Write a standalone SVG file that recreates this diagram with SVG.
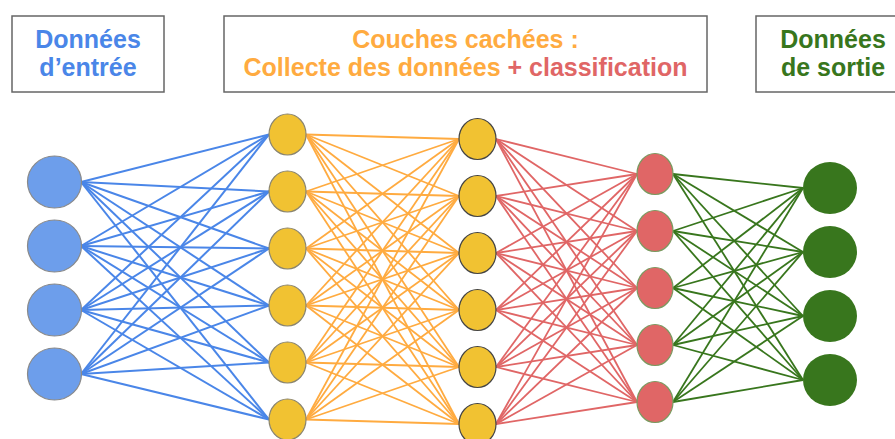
<svg xmlns="http://www.w3.org/2000/svg" width="895" height="439" viewBox="0 0 895 439">
<style>
.box{fill:#fff;stroke:#666;stroke-width:1.5}
.t{font-family:"Liberation Sans",Arial,sans-serif;font-weight:bold;font-size:25px;text-anchor:middle}
.eb line{stroke:#4a86e8;stroke-width:2}
.eo line{stroke:#ffab40;stroke-width:1.8}
.er line{stroke:#e06666;stroke-width:1.8}
.eg line{stroke:#38761d;stroke-width:1.8}
.nb{fill:#6d9eeb;stroke:#8a8a8a;stroke-width:1.2}
.ny{fill:#f1c232;stroke:#8a8570;stroke-width:1.2}
.ny2{fill:#f1c232;stroke:#444;stroke-width:1.2}
.nr{fill:#e06666;stroke:#7a9a60;stroke-width:1.2}
.ng{fill:#38761d}
</style>
<g id="label-input">
<rect class="box" x="12" y="16" width="152" height="76"/>
<text class="t" x="88" y="48" fill="#4a86e8">Données</text>
<text class="t" x="88" y="76" fill="#4a86e8">d’entrée</text>
</g>
<g id="label-hidden">
<rect class="box" x="224" y="16" width="483" height="76"/>
<text class="t" x="465.5" y="48" fill="#ffab40">Couches cachées :</text>
<text class="t" x="465.5" y="76"><tspan fill="#ffab40">Collecte des données </tspan><tspan fill="#e06666">+ classification</tspan></text>
</g>
<g id="label-output">
<rect class="box" x="756" y="16" width="154" height="76"/>
<text class="t" x="833" y="48" fill="#38761d">Données</text>
<text class="t" x="833" y="76" fill="#38761d">de sortie</text>
</g>
<g id="connectors">
<g class="eb">
<line x1="81" y1="182" x2="269" y2="134.5"/><line x1="81" y1="182" x2="269" y2="191.5"/><line x1="81" y1="182" x2="269" y2="248.5"/><line x1="81" y1="182" x2="269" y2="305.5"/><line x1="81" y1="182" x2="269" y2="362.5"/><line x1="81" y1="182" x2="269" y2="419.5"/>
<line x1="81" y1="246" x2="269" y2="134.5"/><line x1="81" y1="246" x2="269" y2="191.5"/><line x1="81" y1="246" x2="269" y2="248.5"/><line x1="81" y1="246" x2="269" y2="305.5"/><line x1="81" y1="246" x2="269" y2="362.5"/><line x1="81" y1="246" x2="269" y2="419.5"/>
<line x1="81" y1="310" x2="269" y2="134.5"/><line x1="81" y1="310" x2="269" y2="191.5"/><line x1="81" y1="310" x2="269" y2="248.5"/><line x1="81" y1="310" x2="269" y2="305.5"/><line x1="81" y1="310" x2="269" y2="362.5"/><line x1="81" y1="310" x2="269" y2="419.5"/>
<line x1="81" y1="374" x2="269" y2="134.5"/><line x1="81" y1="374" x2="269" y2="191.5"/><line x1="81" y1="374" x2="269" y2="248.5"/><line x1="81" y1="374" x2="269" y2="305.5"/><line x1="81" y1="374" x2="269" y2="362.5"/><line x1="81" y1="374" x2="269" y2="419.5"/>
</g>
<g class="eo">
<line x1="306" y1="134.5" x2="459" y2="139"/><line x1="306" y1="134.5" x2="459" y2="196"/><line x1="306" y1="134.5" x2="459" y2="253"/><line x1="306" y1="134.5" x2="459" y2="310"/><line x1="306" y1="134.5" x2="459" y2="367"/><line x1="306" y1="134.5" x2="459" y2="424"/>
<line x1="306" y1="191.5" x2="459" y2="139"/><line x1="306" y1="191.5" x2="459" y2="196"/><line x1="306" y1="191.5" x2="459" y2="253"/><line x1="306" y1="191.5" x2="459" y2="310"/><line x1="306" y1="191.5" x2="459" y2="367"/><line x1="306" y1="191.5" x2="459" y2="424"/>
<line x1="306" y1="248.5" x2="459" y2="139"/><line x1="306" y1="248.5" x2="459" y2="196"/><line x1="306" y1="248.5" x2="459" y2="253"/><line x1="306" y1="248.5" x2="459" y2="310"/><line x1="306" y1="248.5" x2="459" y2="367"/><line x1="306" y1="248.5" x2="459" y2="424"/>
<line x1="306" y1="305.5" x2="459" y2="139"/><line x1="306" y1="305.5" x2="459" y2="196"/><line x1="306" y1="305.5" x2="459" y2="253"/><line x1="306" y1="305.5" x2="459" y2="310"/><line x1="306" y1="305.5" x2="459" y2="367"/><line x1="306" y1="305.5" x2="459" y2="424"/>
<line x1="306" y1="362.5" x2="459" y2="139"/><line x1="306" y1="362.5" x2="459" y2="196"/><line x1="306" y1="362.5" x2="459" y2="253"/><line x1="306" y1="362.5" x2="459" y2="310"/><line x1="306" y1="362.5" x2="459" y2="367"/><line x1="306" y1="362.5" x2="459" y2="424"/>
<line x1="306" y1="419.5" x2="459" y2="139"/><line x1="306" y1="419.5" x2="459" y2="196"/><line x1="306" y1="419.5" x2="459" y2="253"/><line x1="306" y1="419.5" x2="459" y2="310"/><line x1="306" y1="419.5" x2="459" y2="367"/><line x1="306" y1="419.5" x2="459" y2="424"/>
</g>
<g class="er">
<line x1="496" y1="139" x2="637" y2="174"/><line x1="496" y1="139" x2="637" y2="231"/><line x1="496" y1="139" x2="637" y2="288"/><line x1="496" y1="139" x2="637" y2="345"/><line x1="496" y1="139" x2="637" y2="402"/>
<line x1="496" y1="196" x2="637" y2="174"/><line x1="496" y1="196" x2="637" y2="231"/><line x1="496" y1="196" x2="637" y2="288"/><line x1="496" y1="196" x2="637" y2="345"/><line x1="496" y1="196" x2="637" y2="402"/>
<line x1="496" y1="253" x2="637" y2="174"/><line x1="496" y1="253" x2="637" y2="231"/><line x1="496" y1="253" x2="637" y2="288"/><line x1="496" y1="253" x2="637" y2="345"/><line x1="496" y1="253" x2="637" y2="402"/>
<line x1="496" y1="310" x2="637" y2="174"/><line x1="496" y1="310" x2="637" y2="231"/><line x1="496" y1="310" x2="637" y2="288"/><line x1="496" y1="310" x2="637" y2="345"/><line x1="496" y1="310" x2="637" y2="402"/>
<line x1="496" y1="367" x2="637" y2="174"/><line x1="496" y1="367" x2="637" y2="231"/><line x1="496" y1="367" x2="637" y2="288"/><line x1="496" y1="367" x2="637" y2="345"/><line x1="496" y1="367" x2="637" y2="402"/>
<line x1="496" y1="424" x2="637" y2="174"/><line x1="496" y1="424" x2="637" y2="231"/><line x1="496" y1="424" x2="637" y2="288"/><line x1="496" y1="424" x2="637" y2="345"/><line x1="496" y1="424" x2="637" y2="402"/>
</g>
<g class="eg">
<line x1="673" y1="174" x2="803" y2="188"/><line x1="673" y1="174" x2="803" y2="252"/><line x1="673" y1="174" x2="803" y2="316"/><line x1="673" y1="174" x2="803" y2="380"/>
<line x1="673" y1="231" x2="803" y2="188"/><line x1="673" y1="231" x2="803" y2="252"/><line x1="673" y1="231" x2="803" y2="316"/><line x1="673" y1="231" x2="803" y2="380"/>
<line x1="673" y1="288" x2="803" y2="188"/><line x1="673" y1="288" x2="803" y2="252"/><line x1="673" y1="288" x2="803" y2="316"/><line x1="673" y1="288" x2="803" y2="380"/>
<line x1="673" y1="345" x2="803" y2="188"/><line x1="673" y1="345" x2="803" y2="252"/><line x1="673" y1="345" x2="803" y2="316"/><line x1="673" y1="345" x2="803" y2="380"/>
<line x1="673" y1="402" x2="803" y2="188"/><line x1="673" y1="402" x2="803" y2="252"/><line x1="673" y1="402" x2="803" y2="316"/><line x1="673" y1="402" x2="803" y2="380"/>
</g>
</g>
<g id="in1"><ellipse class="nb" cx="54.5" cy="182" rx="27" ry="26"/></g>
<g id="in2"><ellipse class="nb" cx="54.5" cy="246" rx="27" ry="26"/></g>
<g id="in3"><ellipse class="nb" cx="54.5" cy="310" rx="27" ry="26"/></g>
<g id="in4"><ellipse class="nb" cx="54.5" cy="374" rx="27" ry="26"/></g>
<g id="h1-1"><ellipse class="ny" cx="287.5" cy="134.5" rx="18.5" ry="20.5"/></g>
<g id="h1-2"><ellipse class="ny" cx="287.5" cy="191.5" rx="18.5" ry="20.5"/></g>
<g id="h1-3"><ellipse class="ny" cx="287.5" cy="248.5" rx="18.5" ry="20.5"/></g>
<g id="h1-4"><ellipse class="ny" cx="287.5" cy="305.5" rx="18.5" ry="20.5"/></g>
<g id="h1-5"><ellipse class="ny" cx="287.5" cy="362.5" rx="18.5" ry="20.5"/></g>
<g id="h1-6"><ellipse class="ny" cx="287.5" cy="419.5" rx="18.5" ry="20.5"/></g>
<g id="h2-1"><ellipse class="ny2" cx="477.5" cy="139" rx="18.5" ry="20.5"/></g>
<g id="h2-2"><ellipse class="ny2" cx="477.5" cy="196" rx="18.5" ry="20.5"/></g>
<g id="h2-3"><ellipse class="ny2" cx="477.5" cy="253" rx="18.5" ry="20.5"/></g>
<g id="h2-4"><ellipse class="ny2" cx="477.5" cy="310" rx="18.5" ry="20.5"/></g>
<g id="h2-5"><ellipse class="ny2" cx="477.5" cy="367" rx="18.5" ry="20.5"/></g>
<g id="h2-6"><ellipse class="ny2" cx="477.5" cy="424" rx="18.5" ry="20.5"/></g>
<g id="h3-1"><ellipse class="nr" cx="655" cy="174" rx="18" ry="20.5"/></g>
<g id="h3-2"><ellipse class="nr" cx="655" cy="231" rx="18" ry="20.5"/></g>
<g id="h3-3"><ellipse class="nr" cx="655" cy="288" rx="18" ry="20.5"/></g>
<g id="h3-4"><ellipse class="nr" cx="655" cy="345" rx="18" ry="20.5"/></g>
<g id="h3-5"><ellipse class="nr" cx="655" cy="402" rx="18" ry="20.5"/></g>
<g id="out1"><ellipse class="ng" cx="830" cy="188" rx="27" ry="26"/></g>
<g id="out2"><ellipse class="ng" cx="830" cy="252" rx="27" ry="26"/></g>
<g id="out3"><ellipse class="ng" cx="830" cy="316" rx="27" ry="26"/></g>
<g id="out4"><ellipse class="ng" cx="830" cy="380" rx="27" ry="26"/></g>
</svg>
